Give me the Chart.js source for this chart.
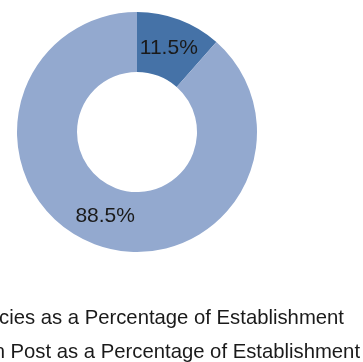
<!DOCTYPE html>
<html>
<head>
<meta charset="utf-8">
<script src="https://cdn.jsdelivr.net/npm/chart.js@4.4.0/dist/chart.umd.min.js"></script>
<style>
  html, body { margin: 0; padding: 0; background: #fff; }
  #wrap { position: relative; width: 363px; height: 362px; overflow: hidden; }
  #chart { position: absolute; left: 0; top: 0; }
  .legend-item {
    position: absolute;
    white-space: nowrap;
    font-family: "Liberation Sans", Arial, sans-serif;
    font-size: 20.3px;
    line-height: 20px;
    color: #1a1a1a;
  }
</style>
</head>
<body>
<div id="wrap">
  <canvas id="chart" width="363" height="362"></canvas>
  <div id="legend"></div>
</div>
<script>
// Staffing breakdown
const categories = [
  'Vacancies as a Percentage of Establishment',
  'In Post as a Percentage of Establishment'
];
const shares = [11.5, 88.5];
const sliceColors = ['#4572A7', '#93A9CF'];

// Percentage labels placed at each arc's centroid
const sliceLabels = {
  id: 'sliceLabels',
  afterDatasetsDraw(chart) {
    const ctx = chart.ctx;
    const meta = chart.getDatasetMeta(0);
    ctx.save();
    ctx.font = '21px "Liberation Sans", Arial, sans-serif';
    ctx.fillStyle = '#1a1a1a';
    ctx.textAlign = 'center';
    ctx.textBaseline = 'middle';
    meta.data.forEach((arc, i) => {
      const p = arc.tooltipPosition();
      ctx.fillText(chart.data.datasets[0].data[i].toFixed(1) + '%', p.x, p.y);
    });
    ctx.restore();
  }
};

const chart = new Chart(document.getElementById('chart'), {
  type: 'doughnut',
  data: {
    labels: categories,
    datasets: [{
      data: shares,
      backgroundColor: sliceColors,
      borderWidth: 0
    }]
  },
  options: {
    responsive: false,
    animation: false,
    devicePixelRatio: 1,
    cutout: '50%',
    layout: { padding: { left: 17, top: 12, right: 106, bottom: 110 } },
    plugins: {
      legend: { display: false },
      tooltip: { enabled: false }
    }
  },
  plugins: [sliceLabels]
});

// Legend rows under the ring
const legendLeft = [-57, -12];
const legendTop = [307, 341];
const legendBox = document.getElementById('legend');
chart.data.labels.forEach((text, i) => {
  const el = document.createElement('div');
  el.className = 'legend-item';
  el.textContent = text;
  el.style.left = legendLeft[i] + 'px';
  el.style.top = legendTop[i] + 'px';
  legendBox.appendChild(el);
});
</script>
</body>
</html>
